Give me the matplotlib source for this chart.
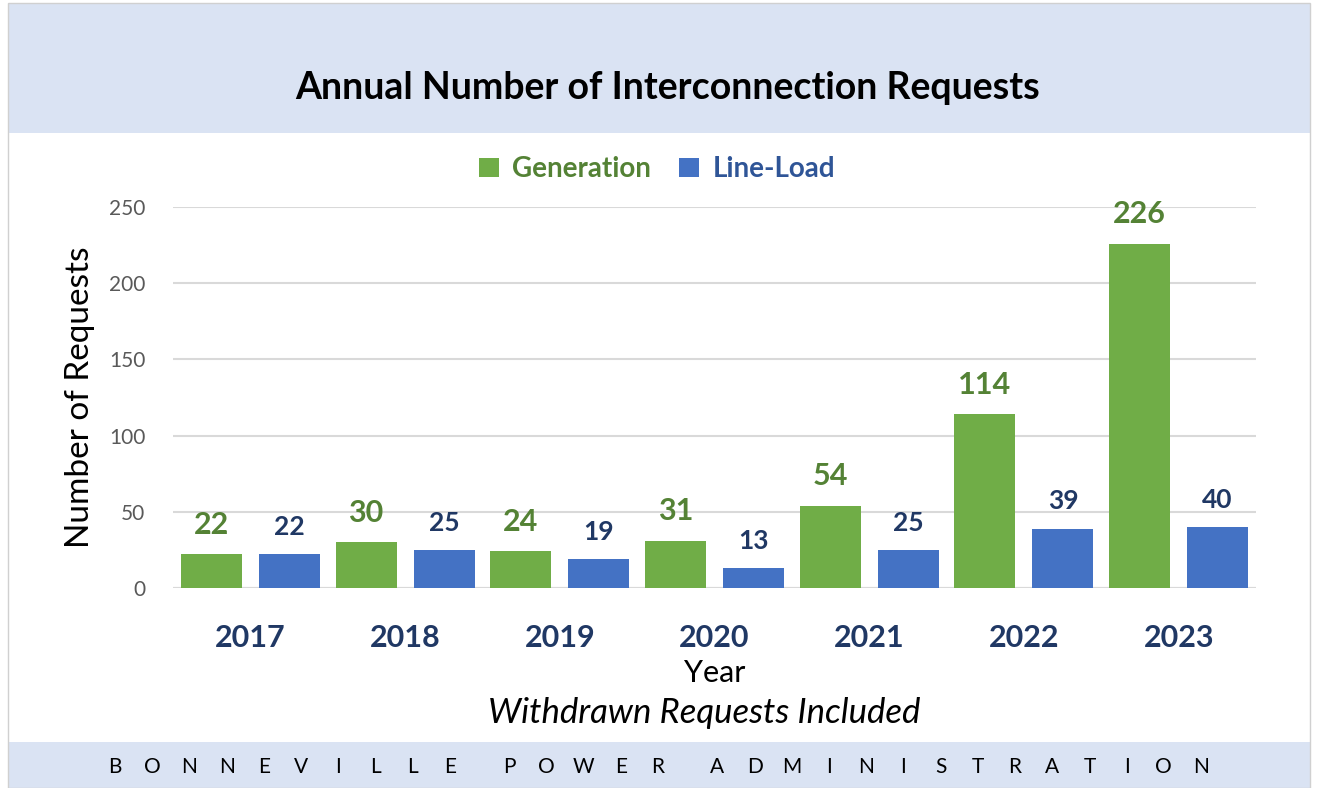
import matplotlib
matplotlib.use("Agg")
import numpy as np
from matplotlib import pyplot as plt
from matplotlib.patches import Rectangle

years = ["2017", "2018", "2019", "2020", "2021", "2022", "2023"]
generation = [22, 30, 24, 31, 54, 114, 226]
line_load = [22, 25, 19, 13, 25, 39, 40]
y_ticks = [0, 50, 100, 150, 200, 250]
footer_words = ["BONNEVILLE", "POWER", "ADMINISTRATION"]

GREEN = "#70AD47"
GREEN_TXT = "#548235"
BLUE = "#4472C4"
BLUE_TXT = "#2F5597"
NAVY = "#203864"
BAND = "#DAE3F3"

plt.rcParams["font.family"] = ["Lato", "DejaVu Sans"]

W, H = 1317, 788
fig = plt.figure(figsize=(W / 100, H / 100), dpi=100)
fig.patch.set_facecolor("white")

# header and footer bands
fig.add_artist(Rectangle((8 / W, 655 / H), 1302 / W, 130 / H,
                         transform=fig.transFigure, facecolor=BAND, edgecolor="none"))
fig.add_artist(Rectangle((8 / W, 0), 1302 / W, 46 / H,
                         transform=fig.transFigure, facecolor=BAND, edgecolor="none"))
fig.add_artist(Rectangle((8 / W, 0), 1302 / W, 785 / H, transform=fig.transFigure,
                         facecolor="none", edgecolor="#D0D0D0", lw=1))

fig.text(668 / W, 1 - 88 / H, "Annual Number of Interconnection Requests",
         ha="center", va="center", fontsize=27, fontweight="bold", color="black")

# spaced-out footer, one letter at a time
pitch, gap = 37.2, 59.4
xpos = 115
for wi, word in enumerate(footer_words):
    if wi > 0:
        xpos += gap - pitch
    for ch in word:
        fig.text(xpos / W, 1 - 767 / H, ch, ha="center", va="center",
                 fontsize=15, color="black")
        xpos += pitch

ax = fig.add_axes([173 / W, 200 / H, (1256 - 173) / W, (588 - 207) / H])
x = np.arange(len(years))
w = 0.395
off = 0.252
ax.bar(x - off, generation, w, color=GREEN, label="Generation", zorder=3)
ax.bar(x + off, line_load, w, color=BLUE, label="Line-Load", zorder=3)

for xi, v in zip(x, generation):
    ax.annotate(str(v), (xi - off, v), xytext=(0, 11), textcoords="offset points",
                ha="center", va="bottom", fontsize=22, fontweight="bold", color=GREEN_TXT)
for xi, v in zip(x, line_load):
    ax.annotate(str(v), (xi + off, v), xytext=(0, 11), textcoords="offset points",
                ha="center", va="bottom", fontsize=19, fontweight="bold", color=NAVY)

ax.set_xlim(-0.5, 6.5)
ax.set_ylim(0, 250)
ax.set_yticks(y_ticks)
ax.yaxis.grid(True, color="#D9D9D9", lw=1.5, zorder=0)
ax.set_xticks(x)
ax.set_xticklabels(years, fontsize=22, fontweight="bold", color=NAVY)
ax.tick_params(axis="x", length=0, pad=26)
ax.tick_params(axis="y", length=0, pad=20, labelsize=15, labelcolor="#595959")
for s in ax.spines.values():
    s.set_visible(False)
ax.axhline(0, color="#D9D9D9", lw=1.5, zorder=2)

ax.set_ylabel("Number of Requests", fontsize=24, color="black", labelpad=10)
ax.set_xlabel("Year", fontsize=22, color="black", labelpad=5)
fig.text(704 / W, 1 - 713 / H, "Withdrawn Requests Included",
         ha="center", va="center", fontsize=25, style="italic", color="black")

leg = ax.legend(loc="lower center", bbox_to_anchor=(0.447, 1.0), ncol=2, frameon=False,
                handlelength=0.7, handleheight=0.7, columnspacing=1.0,
                handletextpad=0.5, prop={"weight": "bold", "size": 20})
for t, c in zip(leg.get_texts(), [GREEN_TXT, BLUE_TXT]):
    t.set_color(c)

fig.savefig("out.png", dpi=100)
